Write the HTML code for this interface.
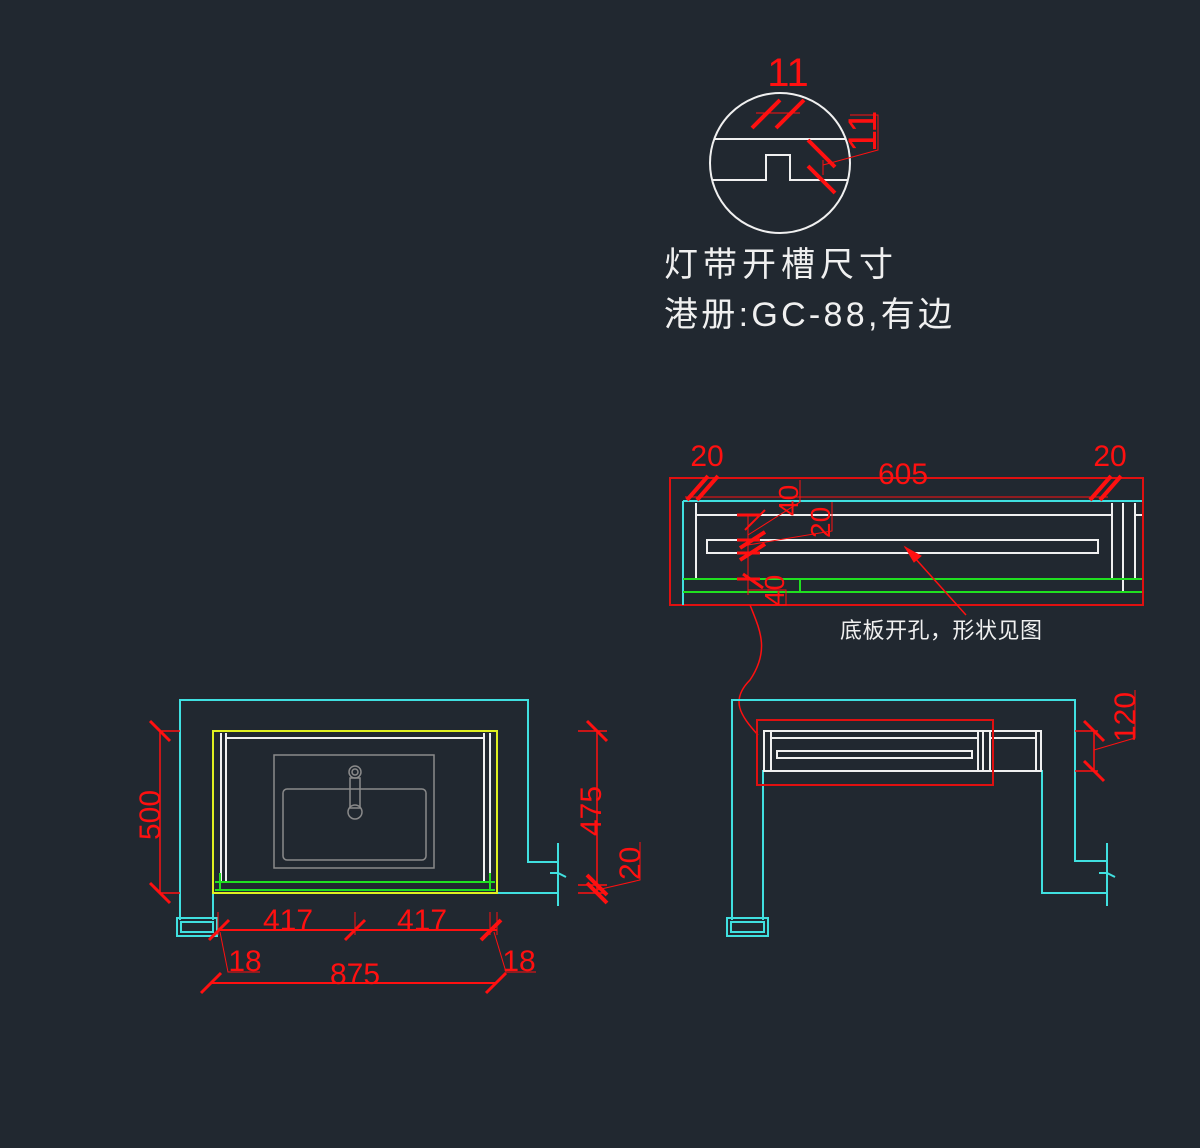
<!DOCTYPE html>
<html><head><meta charset="utf-8"><style>
html,body{margin:0;padding:0;background:#212830;}
svg{display:block}
text{font-family:"Liberation Sans","Noto Sans CJK SC",sans-serif;}
</style></head><body>
<svg width="1200" height="1148" viewBox="0 0 1200 1148" xmlns="http://www.w3.org/2000/svg">
<rect width="1200" height="1148" fill="#212830"/>

<!-- Detail circle -->
<g fill="none" stroke="#f0f0f0" stroke-width="2">
<circle cx="780" cy="163" r="70"/>
<line x1="714" y1="139" x2="846" y2="139"/>
<polyline points="712,180 766,180 766,155 790,155 790,180 848,180"/>
</g>
<g stroke="#ff1010" stroke-width="2" fill="none">
<line x1="756" y1="113" x2="800" y2="113" stroke-width="1"/>
<line x1="752" y1="128" x2="780" y2="100" stroke-width="4"/>
<line x1="776" y1="128" x2="804" y2="100" stroke-width="4"/>
<line x1="808" y1="140" x2="835" y2="167" stroke-width="4"/>
<line x1="808" y1="166" x2="835" y2="193" stroke-width="4"/>
<line x1="823" y1="160" x2="823" y2="175" stroke-width="1"/>
<polyline points="823,165 878,150 878,115 850,115" stroke-width="1"/>
</g>
<text x="788" y="86" fill="#ff1010" font-size="40" text-anchor="middle">11</text>
<text x="0" y="0" fill="#ff1010" font-size="40" transform="translate(876,152) rotate(-90)">11</text>

<text x="664" y="276" fill="#f0f0f0" font-size="34" font-family="Noto Sans CJK SC" textLength="229">灯带开槽尺寸</text>
<text x="664" y="326" fill="#f0f0f0" font-size="34" font-family="Noto Sans CJK SC" textLength="288">港册:GC-88,有边</text>

<!-- Top plan -->
<rect x="670" y="478" width="473" height="127" fill="none" stroke="#e01010" stroke-width="2"/>
<line x1="683" y1="501" x2="1142" y2="501" stroke="#40e0e0" stroke-width="2"/>
<line x1="683" y1="501" x2="683" y2="605" stroke="#40e0e0" stroke-width="2"/>
<g stroke="#f0f0f0" stroke-width="2" fill="none">
<line x1="696" y1="503" x2="696" y2="579"/>
<line x1="1112" y1="503" x2="1112" y2="579"/>
<line x1="1123" y1="503" x2="1123" y2="592"/>
<line x1="1135" y1="503" x2="1135" y2="579"/>
<line x1="696" y1="515" x2="1112" y2="515"/>
<line x1="1135" y1="515" x2="1142" y2="515"/>
<rect x="707" y="540" width="391" height="13"/>
</g>
<g stroke="#20e020" stroke-width="2">
<line x1="683" y1="579" x2="1142" y2="579"/>
<line x1="683" y1="592" x2="1142" y2="592"/>
<line x1="800" y1="579" x2="800" y2="592"/>
</g>
<g stroke="#ff1010" fill="none">
<line x1="685" y1="497" x2="1108" y2="497" stroke-width="1"/>
<line x1="687" y1="500" x2="708" y2="476" stroke-width="4"/>
<line x1="697" y1="500" x2="718" y2="476" stroke-width="4"/>
<line x1="1090" y1="500" x2="1111" y2="476" stroke-width="4"/>
<line x1="1100" y1="500" x2="1121" y2="476" stroke-width="4"/>
<line x1="737" y1="515" x2="760" y2="515" stroke-width="3"/>
<line x1="737" y1="540" x2="760" y2="540" stroke-width="3"/>
<line x1="737" y1="553" x2="760" y2="553" stroke-width="3"/>
<line x1="737" y1="579" x2="760" y2="579" stroke-width="3"/>
<line x1="748" y1="515" x2="748" y2="595" stroke-width="1"/>
<line x1="745" y1="530" x2="765" y2="510" stroke-width="2"/>
<line x1="740" y1="548" x2="765" y2="532" stroke-width="4"/>
<line x1="740" y1="560" x2="765" y2="544" stroke-width="4"/>
<line x1="743" y1="574" x2="763" y2="588" stroke-width="3"/>
<polyline points="748,535 800,502 800,480" stroke-width="1"/>
<polyline points="748,545 832,531 832,502" stroke-width="1"/>
<polyline points="748,590 786,590 786,605 760,605" stroke-width="1"/>
<line x1="905" y1="547" x2="966" y2="615" stroke-width="1.5"/>
<polygon points="905,547 921,556 914,562" fill="#ff1010"/>
<path d="M750 605 C 760 630, 770 650, 750 680 C 730 700, 740 715, 758 735" stroke-width="1.5"/>
</g>
<text x="707" y="466" fill="#ff1010" font-size="30" text-anchor="middle">20</text>
<text x="1110" y="466" fill="#ff1010" font-size="30" text-anchor="middle">20</text>
<text x="903" y="484" fill="#ff1010" font-size="30" text-anchor="middle">605</text>
<text fill="#ff1010" font-size="28" transform="translate(798,516) rotate(-90)">40</text>
<text fill="#ff1010" font-size="28" transform="translate(830,538) rotate(-90)">20</text>
<text fill="#ff1010" font-size="28" transform="translate(784,606) rotate(-90)">40</text>
<text x="840" y="638" fill="#f0f0f0" font-size="22" font-family="Noto Sans CJK SC" textLength="202">底板开孔，形状见图</text>

<!-- Left elevation -->
<g fill="none" stroke="#40e0e0" stroke-width="2">
<polyline points="180,920 180,700 528,700 528,862 558,862"/>
<polyline points="213,920 213,893 558,893"/>
<line x1="558" y1="843" x2="558" y2="906"/>
<path d="M550 873 L558 873 L566 877"/>
<rect x="177" y="918" width="40" height="18"/>
<rect x="181" y="922" width="32" height="10"/>
</g>
<rect x="213" y="731" width="284" height="162" fill="none" stroke="#e0f020" stroke-width="2"/>
<g stroke="#f0f0f0" stroke-width="2" fill="none">
<line x1="221" y1="733" x2="221" y2="883"/>
<line x1="226" y1="733" x2="226" y2="883"/>
<line x1="484" y1="733" x2="484" y2="883"/>
<line x1="490" y1="733" x2="490" y2="883"/>
<line x1="226" y1="738" x2="484" y2="738"/>
</g>
<g stroke="#20e020" stroke-width="2" fill="none">
<line x1="215" y1="882" x2="495" y2="882"/>
<line x1="215" y1="890" x2="495" y2="890"/>
<line x1="220" y1="873" x2="220" y2="890"/>
<line x1="490" y1="873" x2="490" y2="890"/>
</g>
<g stroke="#8a8a8a" stroke-width="1.5" fill="none">
<rect x="274" y="755" width="160" height="113"/>
<rect x="283" y="789" width="143" height="71" rx="4"/>
<circle cx="355" cy="772" r="6"/>
<circle cx="355" cy="772" r="3"/>
<rect x="350" y="778" width="10" height="30"/>
<circle cx="355" cy="812" r="7"/>
</g>
<g stroke="#ff1010" fill="none">
<line x1="160" y1="731" x2="160" y2="893" stroke-width="1.5"/>
<line x1="160" y1="731" x2="180" y2="731" stroke-width="1.5"/>
<line x1="160" y1="893" x2="180" y2="893" stroke-width="1.5"/>
<line x1="150" y1="721" x2="170" y2="741" stroke-width="3"/>
<line x1="150" y1="883" x2="170" y2="903" stroke-width="3"/>
<line x1="597" y1="731" x2="597" y2="893" stroke-width="1.5"/>
<line x1="578" y1="731" x2="607" y2="731" stroke-width="1.5"/>
<line x1="578" y1="885" x2="607" y2="885" stroke-width="1.5"/>
<line x1="578" y1="893" x2="607" y2="893" stroke-width="1.5"/>
<line x1="587" y1="721" x2="607" y2="741" stroke-width="3"/>
<line x1="587" y1="875" x2="607" y2="895" stroke-width="4"/>
<line x1="587" y1="883" x2="607" y2="903" stroke-width="4"/>
<polyline points="597,890 640,880 640,842" stroke-width="1"/>
<line x1="218" y1="930" x2="497" y2="930" stroke-width="2"/>
<line x1="211" y1="983" x2="497" y2="983" stroke-width="2"/>
<line x1="218" y1="912" x2="218" y2="935" stroke-width="1"/>
<line x1="355" y1="912" x2="355" y2="935" stroke-width="1"/>
<line x1="490" y1="912" x2="490" y2="935" stroke-width="1"/>
<line x1="497" y1="912" x2="497" y2="935" stroke-width="1"/>
<line x1="209" y1="940" x2="229" y2="920" stroke-width="3"/>
<line x1="345" y1="940" x2="365" y2="920" stroke-width="3"/>
<line x1="481" y1="940" x2="501" y2="920" stroke-width="4"/>
<line x1="201" y1="993" x2="221" y2="973" stroke-width="3"/>
<line x1="486" y1="993" x2="506" y2="973" stroke-width="3"/>
<polyline points="220,932 228,972 260,972" stroke-width="1"/>
<polyline points="494,932 506,972 536,972" stroke-width="1"/>
</g>
<text fill="#ff1010" font-size="30" transform="translate(160,840) rotate(-90)">500</text>
<text fill="#ff1010" font-size="30" transform="translate(601,836) rotate(-90)">475</text>
<text fill="#ff1010" font-size="30" transform="translate(640,880) rotate(-90)">20</text>
<text x="288" y="930" fill="#ff1010" font-size="30" text-anchor="middle">417</text>
<text x="422" y="930" fill="#ff1010" font-size="30" text-anchor="middle">417</text>
<text x="245" y="971" fill="#ff1010" font-size="30" text-anchor="middle">18</text>
<text x="519" y="971" fill="#ff1010" font-size="30" text-anchor="middle">18</text>
<text x="355" y="984" fill="#ff1010" font-size="30" text-anchor="middle">875</text>

<!-- Right elevation -->
<g fill="none" stroke="#40e0e0" stroke-width="2">
<polyline points="732,920 732,700 1075,700 1075,861 1107,861"/>
<polyline points="763,920 763,770"/>
<polyline points="1042,770 1042,893 1107,893"/>
<line x1="1107" y1="843" x2="1107" y2="906"/>
<path d="M1099 873 L1107 873 L1115 877"/>
<rect x="727" y="918" width="41" height="18"/>
<rect x="731" y="922" width="33" height="10"/>
</g>
<g stroke="#f0f0f0" stroke-width="2" fill="none">
<rect x="764" y="731" width="277" height="40"/>
<line x1="771" y1="731" x2="771" y2="771"/>
<line x1="978" y1="731" x2="978" y2="771"/>
<line x1="983" y1="731" x2="983" y2="771"/>
<line x1="990" y1="731" x2="990" y2="771"/>
<line x1="1036" y1="731" x2="1036" y2="771"/>
<line x1="771" y1="738" x2="978" y2="738"/>
<line x1="990" y1="738" x2="1036" y2="738"/>
<rect x="777" y="751" width="195" height="7"/>
</g>
<rect x="757" y="720" width="236" height="65" fill="none" stroke="#e01010" stroke-width="2"/>
<g stroke="#ff1010" fill="none">
<line x1="1075" y1="731" x2="1098" y2="731" stroke-width="1.5"/>
<line x1="1075" y1="771" x2="1098" y2="771" stroke-width="1.5"/>
<line x1="1094" y1="731" x2="1094" y2="771" stroke-width="1.5"/>
<line x1="1084" y1="721" x2="1104" y2="741" stroke-width="3"/>
<line x1="1084" y1="761" x2="1104" y2="781" stroke-width="3"/>
<polyline points="1094,750 1135,738 1135,690" stroke-width="1"/>
</g>
<text fill="#ff1010" font-size="30" transform="translate(1135,742) rotate(-90)">120</text>
</svg>
</body></html>
